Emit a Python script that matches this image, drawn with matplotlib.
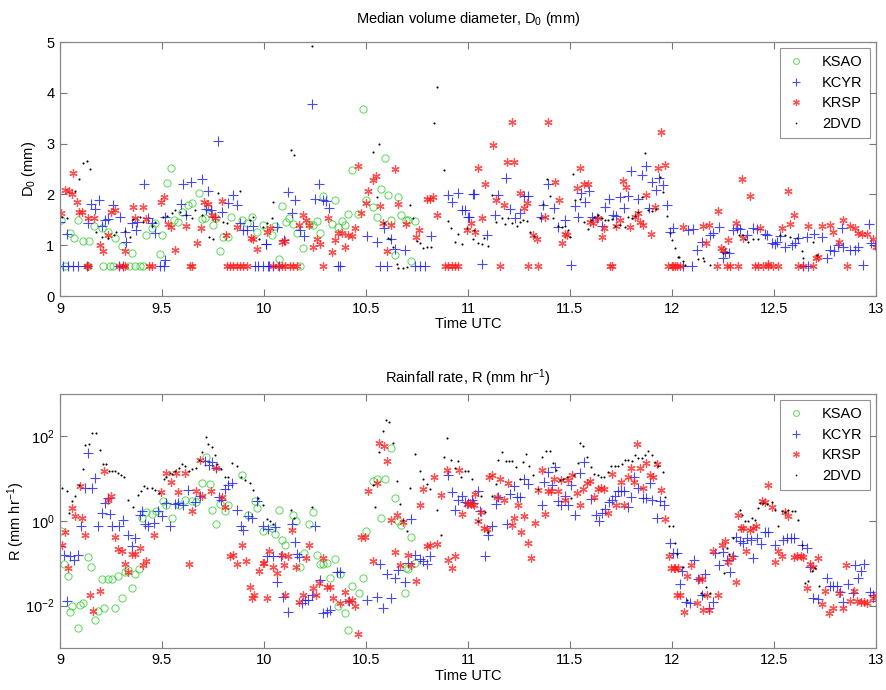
import matplotlib
matplotlib.use('Agg')
import matplotlib.pyplot as plt
import numpy as np
from matplotlib.ticker import FixedLocator, FixedFormatter, NullLocator

plt.rcParams['font.family'] = ['Liberation Sans', 'DejaVu Sans']
plt.rcParams['mathtext.default'] = 'regular'

# ---------------- data: median volume diameter D0 (mm), (time UTC, value) ----------------
ksao_d0 = [
    (9.004, 1.50), (9.049, 1.24), (9.070, 1.14), (9.086, 1.50), (9.114, 1.09), (9.143, 1.09),
    (9.168, 1.37), (9.204, 1.33), (9.236, 1.27), (9.269, 1.14), (9.302, 0.99), (9.354, 0.84),
    (9.424, 1.21), (9.449, 1.33), (9.465, 1.43), (9.501, 1.20), (9.491, 0.83), (9.527, 2.23),
    (9.544, 2.53), (9.560, 1.50), (9.580, 1.45), (9.599, 1.66), (9.629, 1.79), (9.645, 1.84),
    (9.681, 2.02), (9.694, 1.51), (9.710, 1.54), (9.727, 1.73), (9.751, 1.40), (9.767, 1.54),
    (9.784, 0.89), (9.800, 1.17), (9.825, 1.17), (9.838, 1.56), (9.890, 1.50), (9.915, 1.43),
    (9.939, 1.56), (9.964, 1.27), (9.996, 1.40), (10.037, 1.21), (10.054, 1.37), (10.086, 1.78),
    (10.107, 1.46), (10.124, 1.54), (10.143, 1.41), (10.160, 1.25), (10.189, 0.95), (10.222, 1.41),
    (10.241, 1.40), (10.261, 1.48), (10.274, 1.25), (10.290, 1.96), (10.348, 1.89), (10.331, 1.41),
    (10.364, 1.35), (10.380, 1.48), (10.397, 1.40), (10.410, 1.61), (10.429, 2.49), (10.462, 1.61),
    (10.483, 3.68), (10.500, 1.89), (10.536, 1.76), (10.552, 1.56), (10.572, 2.11), (10.591, 2.72),
    (10.607, 1.99), (10.625, 1.50), (10.642, 0.81), (10.658, 1.94), (10.674, 1.60), (10.694, 1.49),
    (10.707, 1.50), (10.740, 1.48), (10.723, 0.69),
    (9.024, 0.6), (9.138, 0.6), (9.212, 0.6), (9.245, 0.6), (9.261, 0.6), (9.338, 0.6),
    (9.367, 0.6), (9.392, 0.6), (9.408, 0.6), (10.073, 0.72), (10.176, 0.6),
]

kcyr_d0 = [
    (9.000, 1.46), (9.035, 1.22), (9.151, 1.81), (9.171, 1.71), (9.191, 1.90), (9.135, 1.43),
    (9.204, 1.37), (9.220, 1.50), (9.233, 1.51), (9.261, 1.79), (9.294, 1.56), (9.318, 1.27),
    (9.326, 1.07), (9.354, 1.43), (9.379, 1.46), (9.375, 1.30), (9.413, 2.20), (9.433, 1.53),
    (9.452, 1.43), (9.465, 1.24), (9.514, 1.56), (9.517, 0.71), (9.593, 1.82), (9.604, 2.20),
    (9.620, 1.60), (9.642, 2.25), (9.694, 2.30), (9.718, 1.71), (9.727, 2.07), (9.740, 1.69),
    (9.759, 1.56), (9.776, 3.05), (9.792, 1.66), (9.825, 1.84), (9.849, 1.98), (9.866, 1.80),
    (9.882, 1.44), (9.898, 1.30), (9.915, 1.30), (9.947, 1.37), (10.008, 1.02),
    (10.009, 1.02), (10.065, 1.35), (10.099, 1.10), (10.119, 2.05), (10.135, 1.63), (10.152, 1.89),
    (10.176, 1.30), (10.197, 1.18), (10.233, 3.79), (10.250, 1.91), (10.271, 2.20), (10.290, 1.89),
    (10.304, 1.87), (10.320, 1.73), (10.503, 1.18), (10.552, 1.07), (10.588, 1.33), (10.621, 1.12),
    (10.640, 0.93), (10.691, 0.91), (10.817, 1.18), (10.903, 1.98), (10.920, 1.86), (10.949, 2.02),
    (10.969, 1.69), (10.985, 1.69), (11.001, 1.56), (11.026, 2.00),
    (11.005, 1.56), (11.031, 2.00), (11.067, 0.64), (11.091, 1.20), (11.132, 1.60), (11.148, 1.99),
    (11.184, 2.33), (11.206, 1.71), (11.230, 1.54), (11.255, 1.63), (11.276, 1.96), (11.292, 1.96),
    (11.358, 1.56), (11.369, 1.80), (11.393, 2.20), (11.423, 1.73), (11.443, 1.35), (11.475, 1.50),
    (11.505, 0.62), (11.524, 1.78), (11.541, 1.56), (11.554, 2.02), (11.573, 1.86), (11.593, 2.07),
    (11.606, 1.56), (11.630, 1.54), (11.655, 1.37), (11.671, 1.76), (11.691, 1.92), (11.712, 1.60),
    (11.728, 1.57), (11.745, 1.94), (11.766, 1.74), (11.782, 1.96), (11.799, 2.46), (11.835, 1.92),
    (11.851, 2.38), (11.871, 2.56), (11.887, 1.74), (11.900, 2.25), (11.920, 2.09), (11.936, 2.32),
    (11.957, 2.19), (11.974, 1.80), (11.990, 1.27), (12.006, 1.33),
    (12.080, 1.30), (12.101, 1.32), (12.145, 1.07), (12.121, 0.91), (12.186, 1.20), (12.199, 1.25),
    (12.232, 1.35), (12.248, 0.75), (12.260, 0.87), (12.281, 0.84), (12.297, 1.30), (12.317, 1.33),
    (12.333, 1.31), (12.366, 1.20), (12.395, 1.33), (12.418, 1.32), (12.456, 1.23), (12.464, 1.21),
    (12.488, 1.04), (12.505, 1.02), (12.516, 1.07), (12.529, 1.18), (12.554, 0.97), (12.586, 1.00),
    (12.603, 1.04), (12.619, 1.14), (12.660, 1.17), (12.696, 1.23), (12.733, 1.17), (12.758, 0.74),
    (12.774, 0.91), (12.794, 0.89), (12.815, 1.00), (12.831, 1.33), (12.840, 0.97), (12.872, 0.91),
    (12.897, 0.91), (12.913, 0.97), (12.938, 0.62), (12.967, 1.41), (12.974, 1.04), (12.995, 1.00),
    (9.016, 0.6), (9.040, 0.6), (9.065, 0.6), (9.089, 0.6), (9.130, 0.6), (9.289, 0.6),
    (9.307, 0.6), (9.490, 0.6), (9.509, 0.6), (9.955, 0.6), (9.972, 0.6), (10.021, 0.6),
    (9.996, 0.6), (10.026, 0.6), (10.046, 0.6), (10.073, 0.6), (10.364, 0.6), (10.372, 0.6),
    (10.568, 0.6), (10.604, 0.6), (10.740, 0.6), (10.764, 0.6), (10.789, 0.6),
    (12.055, 0.6), (12.096, 0.6), (12.644, 0.6), (12.668, 0.6),
]

krsp_d0 = [
    (9.004, 1.63), (9.024, 2.09), (9.044, 2.07), (9.065, 2.43), (9.057, 2.00), (9.081, 1.86),
    (9.093, 1.66), (9.109, 1.66), (9.138, 1.53), (9.168, 1.54), (9.196, 1.00), (9.212, 0.89),
    (9.233, 1.21), (9.250, 1.66), (9.269, 1.69), (9.318, 0.89), (9.359, 1.75), (9.367, 1.54),
    (9.408, 1.76), (9.424, 1.51), (9.495, 1.86), (9.511, 1.94), (9.531, 1.41), (9.544, 1.35),
    (9.563, 0.91), (9.617, 1.38), (9.674, 1.04), (9.689, 1.33), (9.707, 1.86), (9.727, 1.82),
    (9.743, 1.60), (9.759, 1.54), (9.792, 1.87), (9.812, 1.20), (9.870, 1.35), (9.936, 1.14),
    (9.947, 1.12), (9.964, 0.92),
    (10.013, 1.27), (10.029, 1.33), (10.086, 1.06), (10.103, 1.08), (10.173, 1.40), (10.189, 1.60),
    (10.205, 1.50), (10.222, 1.40), (10.241, 0.97), (10.261, 1.12), (10.277, 1.02), (10.315, 1.54),
    (10.331, 0.87), (10.348, 1.10), (10.364, 1.25), (10.380, 1.25), (10.397, 0.97), (10.413, 1.20),
    (10.429, 1.18), (10.446, 1.33), (10.462, 2.56), (10.478, 1.64), (10.500, 1.83), (10.511, 2.07),
    (10.536, 2.28), (10.549, 2.36), (10.568, 1.78), (10.585, 1.43), (10.604, 0.89), (10.621, 1.39),
    (10.640, 2.51), (10.658, 1.81), (10.694, 1.41), (10.745, 1.17), (10.761, 1.30), (10.797, 1.91),
    (10.813, 1.92), (10.830, 1.94), (10.846, 1.60),
    (10.993, 1.30), (11.014, 1.43), (11.034, 1.27), (11.050, 2.53), (11.067, 1.54), (11.083, 2.20),
    (11.124, 2.97), (11.137, 1.89), (11.178, 1.79), (11.189, 2.63), (11.214, 3.42), (11.227, 2.63),
    (11.255, 2.02), (11.276, 1.74), (11.287, 1.84), (11.320, 1.20), (11.336, 1.12), (11.377, 1.56),
    (11.393, 3.42), (11.426, 2.24), (11.446, 1.89), (11.459, 1.04), (11.475, 1.23), (11.483, 1.21),
    (11.532, 2.12), (11.549, 2.53), (11.570, 2.20), (11.586, 2.20), (11.598, 1.46), (11.614, 1.44),
    (11.635, 1.53), (11.655, 1.17), (11.668, 1.33), (11.724, 1.38), (11.745, 1.50), (11.761, 2.27),
    (11.777, 2.15), (11.794, 1.35), (11.818, 1.56), (11.831, 1.63), (11.843, 1.46), (11.859, 1.40),
    (11.875, 1.99), (11.897, 1.23), (11.916, 1.76), (11.929, 2.53), (11.946, 3.22), (11.965, 2.58),
    (12.055, 1.35), (12.153, 1.37), (12.166, 1.04), (12.183, 1.39), (12.227, 1.67), (12.238, 0.95),
    (12.251, 0.91), (12.276, 1.10), (12.314, 1.43), (12.341, 2.30), (12.349, 1.15), (12.382, 1.97),
    (12.431, 1.33), (12.472, 0.64), (12.537, 1.33), (12.570, 2.07), (12.578, 1.41), (12.598, 1.60),
    (12.668, 1.37), (12.706, 0.74), (12.717, 0.77), (12.733, 1.38), (12.774, 1.40), (12.791, 1.27),
    (12.820, 1.06), (12.836, 1.50), (12.872, 1.38), (12.897, 1.33), (12.913, 1.25), (12.930, 1.23),
    (12.954, 1.23), (12.987, 1.12), (12.998, 0.97),
    (9.130, 0.6), (9.138, 0.6), (9.289, 0.6), (9.307, 0.6), (9.318, 0.6), (9.437, 0.6),
    (9.449, 0.6), (9.637, 0.6), (9.645, 0.6), (9.817, 0.6), (9.833, 0.6), (9.849, 0.6),
    (9.866, 0.6), (9.882, 0.6), (9.898, 0.6), (9.915, 0.6),
    (10.046, 0.6), (10.070, 0.6), (10.086, 0.6), (10.103, 0.6), (10.127, 0.6), (10.143, 0.6),
    (10.160, 0.6), (10.290, 0.6), (10.887, 0.6), (10.903, 0.6), (10.920, 0.6), (10.936, 0.6),
    (10.952, 0.6), (11.157, 0.6), (11.295, 0.6), (11.344, 0.6), (11.696, 0.6), (11.704, 0.6),
    (11.982, 0.6), (11.998, 0.6), (12.014, 0.6), (12.006, 0.6), (12.023, 0.6), (12.039, 0.6),
    (12.219, 0.6), (12.268, 0.6), (12.284, 0.6), (12.325, 0.6), (12.407, 0.6), (12.423, 0.6),
    (12.448, 0.6), (12.472, 0.6), (12.497, 0.6), (12.521, 0.6), (12.619, 0.6), (12.644, 0.6),
    (12.693, 0.6), (12.856, 0.6),
]

dvd_d0 = [
    (9.008, 1.56), (9.032, 1.54), (9.076, 2.07), (9.094, 2.30), (9.114, 2.61), (9.130, 2.66),
    (9.147, 2.51), (9.179, 1.27), (9.204, 1.17), (9.236, 1.14), (9.266, 1.20), (9.277, 1.27),
    (9.318, 1.28), (9.343, 1.17), (9.359, 1.51), (9.392, 1.55), (9.408, 1.46), (9.449, 1.38),
    (9.465, 1.45), (9.506, 1.56), (9.527, 1.58), (9.547, 1.63), (9.563, 1.69), (9.588, 1.66),
    (9.620, 1.60), (9.645, 1.53), (9.661, 1.69), (9.694, 1.60), (9.732, 1.17), (9.751, 1.12),
    (9.776, 2.02), (9.800, 1.46), (9.817, 1.44), (9.882, 2.07), (9.931, 1.50), (9.947, 1.56),
    (9.975, 1.12), (9.996, 1.36),
    (10.016, 1.43), (10.037, 1.53), (10.045, 1.86), (10.132, 2.87), (10.148, 2.78), (10.233, 4.93),
    (10.532, 2.84), (10.552, 1.94), (10.565, 3.00), (10.588, 1.43), (10.609, 1.15), (10.617, 1.12),
    (10.634, 0.97), (10.650, 0.64), (10.658, 0.56), (10.679, 0.56), (10.699, 0.58), (10.715, 1.80),
    (10.732, 1.54), (10.748, 1.08), (10.764, 1.04), (10.781, 0.95), (10.797, 0.97), (10.817, 0.97),
    (10.833, 3.40), (10.849, 4.11), (10.882, 2.48), (10.903, 1.48), (10.915, 1.33), (10.936, 1.06),
    (10.952, 1.23), (10.969, 1.02), (10.993, 1.33), (11.026, 1.12),
    (11.031, 1.30), (11.047, 1.04), (11.067, 1.02), (11.080, 1.14), (11.096, 0.99), (11.116, 1.99),
    (11.135, 1.46), (11.165, 1.53), (11.181, 1.41), (11.197, 1.54), (11.214, 1.43), (11.238, 1.37),
    (11.255, 1.45), (11.271, 1.50), (11.287, 1.48), (11.304, 1.27), (11.325, 1.19), (11.353, 1.54),
    (11.369, 1.82), (11.385, 2.30), (11.402, 1.96), (11.418, 1.53), (11.443, 1.37), (11.459, 1.35),
    (11.475, 1.37), (11.492, 1.30), (11.500, 1.17), (11.516, 2.40), (11.524, 1.89), (11.549, 1.92),
    (11.570, 1.45), (11.586, 1.32), (11.603, 1.50), (11.619, 1.56), (11.635, 1.60), (11.655, 1.54),
    (11.671, 1.50), (11.688, 1.50), (11.704, 1.51), (11.720, 1.37), (11.745, 1.40), (11.769, 1.35),
    (11.786, 1.56), (11.802, 1.54), (11.818, 1.58), (11.835, 1.66), (11.851, 1.94), (11.867, 2.81),
    (11.884, 1.69), (11.900, 1.67), (11.920, 1.71), (11.941, 2.35), (11.957, 2.04), (11.974, 1.58),
    (11.990, 1.25), (12.001, 1.10), (12.014, 0.94), (12.031, 0.77),
    (12.036, 0.77), (12.052, 0.68), (12.064, 0.61), (12.129, 0.73), (12.150, 0.74), (12.157, 0.69),
    (12.186, 0.61), (12.251, 0.84), (12.268, 0.87), (12.330, 1.20), (12.341, 1.21), (12.358, 1.12),
    (12.374, 1.07), (12.399, 1.12), (12.423, 1.12), (12.529, 1.20), (12.554, 1.21), (12.578, 1.17),
    (12.611, 1.14), (12.635, 0.89), (12.644, 0.75), (12.689, 1.06), (12.709, 0.81),
]

# ---------------- data: rainfall rate, stored as log10(R / mm hr^-1) ----------------
ksao_logR = [
    (9.004, -0.23), (9.021, -1.02), (9.037, -1.31), (9.049, -2.14), (9.060, -2.02), (9.086, -2.52),
    (9.098, -1.98), (9.114, -1.95), (9.135, -0.86), (9.151, -1.08), (9.171, -2.34), (9.187, -2.13),
    (9.204, -1.38), (9.217, -2.06), (9.233, -1.37), (9.253, -1.37), (9.269, -2.05), (9.285, -1.31),
    (9.302, -1.81), (9.318, -1.20), (9.334, -1.17), (9.354, -1.59), (9.367, -1.26), (9.387, -1.13),
    (9.403, 0.08), (9.424, 0.21), (9.449, 0.16), (9.473, 0.24), (9.506, 0.46), (9.522, 0.38),
    (9.547, 0.07), (9.583, 0.37), (9.612, 0.50), (9.645, 0.46), (9.669, 0.45), (9.694, 0.89),
    (9.718, 1.50), (9.735, 0.87), (9.746, 0.26), (9.767, -0.07), (9.784, 0.40), (9.808, 0.23),
    (9.825, 0.37), (9.893, 1.08), (9.923, 0.13), (9.955, 0.46), (9.968, 0.30), (9.996, -0.23),
    (10.037, -0.17), (10.054, -0.31), (10.075, 0.26), (10.086, -0.45), (10.103, -0.58),
    (10.140, 0.13), (10.156, 0.00), (10.176, -1.08), (10.196, -0.76), (10.222, -0.08), (10.241, 0.21),
    (10.261, -0.80), (10.274, -1.02), (10.290, -1.02), (10.307, -1.00), (10.326, -1.34),
    (10.348, -0.90), (10.375, -1.26), (10.364, -2.00), (10.397, -2.18), (10.410, -2.58),
    (10.429, -1.53), (10.467, -1.71), (10.483, -1.34), (10.500, -0.23), (10.536, 0.95), (10.552, 1.00),
    (10.572, 0.08), (10.591, 1.00), (10.625, 1.72), (10.642, 0.54), (10.658, 0.00), (10.674, -0.09),
    (10.694, -1.12), (10.707, -1.13), (10.723, -0.37), (10.740, -1.00), (10.691, -1.71),
]

kcyr_logR = [
    (9.000, -0.60), (9.021, -0.80), (9.032, -1.90), (9.049, -0.82), (9.070, -0.92), (9.086, -0.80),
    (9.102, -0.13), (9.122, 0.78), (9.135, 1.61), (9.155, 0.78), (9.174, 1.01), (9.187, -0.13),
    (9.204, 0.19), (9.220, 0.42), (9.233, 0.54), (9.245, 0.16), (9.256, -0.13), (9.289, -0.13),
    (9.310, 0.03), (9.331, -0.34), (9.351, -0.60), (9.367, -0.41), (9.392, 0.15), (9.403, 0.24),
    (9.416, -0.08), (9.433, -0.13), (9.462, -0.05), (9.482, 0.24), (9.498, 0.11), (9.522, 0.42),
    (9.539, -0.13), (9.563, 0.40), (9.580, 0.42), (9.604, 0.38), (9.629, 0.74), (9.661, 0.45),
    (9.686, 0.58), (9.710, 1.41), (9.730, 1.33), (9.746, 1.39), (9.767, 1.25), (9.779, 0.56),
    (9.789, 0.50), (9.808, 0.76), (9.825, 0.84), (9.841, 0.89), (9.870, 0.26), (9.887, -0.11),
    (9.898, -0.21), (9.923, 0.11), (9.939, 0.07), (9.964, 0.46), (9.996, -0.13), (10.013, -0.84),
    (10.021, -0.19), (10.045, -0.82), (10.054, -0.15), (10.062, -1.45), (10.081, -0.82),
    (10.094, -1.79), (10.119, -2.14), (10.135, -0.08), (10.152, -0.49), (10.163, -0.79),
    (10.173, -0.86), (10.184, -1.95), (10.201, -1.87), (10.217, -1.87), (10.233, -1.75),
    (10.250, -0.11), (10.274, -1.39), (10.290, -2.18), (10.307, -2.14), (10.323, -2.10),
    (10.356, -1.20), (10.372, -1.20), (10.418, -1.89), (10.503, -1.87), (10.552, -1.79),
    (10.568, -1.02), (10.585, -2.05), (10.601, -1.26), (10.625, -1.83), (10.642, -1.35),
    (10.658, -1.16), (10.691, -1.45), (10.707, -1.00), (10.723, 0.05), (10.740, -0.80),
    (10.764, -0.90), (10.781, -0.94), (10.797, -1.02), (10.813, -0.82), (10.903, 1.08),
    (10.920, 0.68), (10.936, 0.26), (10.952, 0.50), (10.969, 0.60), (10.985, 0.45), (11.001, 0.42),
    (11.018, 0.50),
    (11.026, 0.42), (11.047, 0.71), (11.059, 0.24), (11.083, -0.84), (11.099, -0.34), (11.116, -0.13),
    (11.135, 0.40), (11.148, 0.56), (11.189, -0.08), (11.206, 0.63), (11.227, 0.82), (11.238, 0.56),
    (11.255, 0.56), (11.276, 1.00), (11.292, 0.87), (11.361, 0.38), (11.374, 0.92), (11.393, 1.16),
    (11.413, 0.86), (11.426, 1.27), (11.443, 0.46), (11.456, 0.37), (11.475, 0.60), (11.488, 0.38),
    (11.505, 0.86), (11.524, 0.15), (11.549, 1.13), (11.570, 1.39), (11.603, 0.52), (11.626, 0.13),
    (11.642, 0.00), (11.655, 0.18), (11.671, 0.29), (11.691, 0.45), (11.704, 0.50), (11.720, 0.60),
    (11.733, 0.70), (11.750, 0.70), (11.766, 0.70), (11.782, 0.34), (11.799, 0.56), (11.815, 1.05),
    (11.831, 0.79), (11.859, 0.54), (11.875, 0.54), (11.892, 0.89), (11.903, 0.50), (11.925, 0.08),
    (11.941, 0.46), (11.962, 0.38), (11.990, -0.53), (12.006, -0.76), (12.023, -0.76),
    (12.039, -1.50), (12.047, -1.18), (12.068, -1.92), (12.088, -1.95), (12.108, -0.92),
    (12.129, -1.37), (12.145, -1.75), (12.162, -1.26), (12.183, -2.06), (12.199, -1.92),
    (12.211, -0.76), (12.232, -1.04), (12.251, -0.74), (12.268, -0.92), (12.284, -1.20),
    (12.300, -0.82), (12.314, -0.37), (12.333, -0.47), (12.349, -0.53), (12.366, -0.41),
    (12.385, -0.45), (12.399, -0.88), (12.418, -0.41), (12.434, -0.55), (12.456, -0.25),
    (12.472, -0.25), (12.505, -0.56), (12.546, -0.45), (12.562, -0.41), (12.582, -0.41),
    (12.598, -0.41), (12.635, -0.58), (12.660, -0.64), (12.676, -1.08), (12.693, -1.83),
    (12.717, -1.84), (12.758, -1.35), (12.774, -1.53), (12.791, -1.53), (12.807, -1.53),
    (12.823, -1.67), (12.840, -1.91), (12.864, -1.50), (12.885, -1.71), (12.897, -1.04),
    (12.913, -1.35), (12.925, -1.18), (12.941, -1.02), (12.970, -1.67), (12.987, -1.76),
    (12.999, -1.89),
]

krsp_logR = [
    (9.008, -0.58), (9.024, -0.25), (9.040, -1.10), (9.057, 0.30), (9.076, 0.11), (9.098, 0.82),
    (9.109, 0.08), (9.125, -0.33), (9.147, -1.76), (9.163, -2.13), (9.196, -1.65), (9.217, 1.17),
    (9.233, 0.50), (9.250, 0.58), (9.269, -0.39), (9.282, -0.66), (9.302, -0.72), (9.318, -1.02),
    (9.334, -1.20), (9.354, -0.79), (9.370, -0.79), (9.392, -0.64), (9.408, -1.04), (9.424, -0.94),
    (9.462, -0.33), (9.495, 0.68), (9.522, 1.13), (9.544, 0.92), (9.567, 1.13), (9.580, 0.68),
    (9.612, 1.13), (9.632, -1.02), (9.645, 0.24), (9.669, 0.71), (9.686, 1.45), (9.694, 0.60),
    (9.740, 0.70), (9.763, 1.25), (9.792, 0.56), (9.808, 0.34), (9.833, -0.82), (9.849, -0.80),
    (9.866, -1.02), (9.890, -0.58), (9.910, -0.94), (9.931, -1.57), (9.939, -1.81), (9.952, -1.75),
    (9.977, -1.18), (9.996, -1.00), (10.013, -1.81),
    (10.000, -1.00), (10.026, -0.72), (10.045, -1.08), (10.065, -1.24), (10.086, -0.80),
    (10.098, -1.04), (10.103, -1.75), (10.119, -0.82), (10.135, -0.21), (10.156, -1.08),
    (10.173, -1.92), (10.189, -1.76), (10.205, -0.88), (10.222, -0.56), (10.238, -1.59),
    (10.254, -1.75), (10.271, -1.47), (10.290, -0.88), (10.307, -1.57), (10.323, -1.55),
    (10.339, -1.83), (10.372, -1.95), (10.397, -1.69), (10.413, -1.89), (10.429, -1.87),
    (10.446, -2.02), (10.462, -2.66), (10.478, -0.38), (10.495, -0.38), (10.511, 0.70),
    (10.536, -0.94), (10.552, 0.89), (10.565, 1.84), (10.588, 1.76), (10.604, 1.42), (10.621, 0.03),
    (10.640, -0.74), (10.650, 0.15), (10.666, -1.04), (10.683, -0.03), (10.707, -0.80),
    (10.723, -1.04), (10.745, -1.42), (10.764, 0.37), (10.781, 0.76), (10.797, -0.60),
    (10.813, -0.58), (10.833, 1.03), (10.849, -0.55), (10.870, 0.62), (10.895, 1.21),
    (10.903, -0.92), (10.920, -1.12), (10.936, -0.82), (10.957, 1.21), (10.973, 0.16),
    (10.993, 0.40), (11.013, 0.40), (11.029, 0.38),
    (11.010, 0.42), (11.034, 0.63), (11.050, 0.00), (11.063, 0.22), (11.080, -0.17), (11.091, -0.19),
    (11.103, 1.03), (11.119, 1.09), (11.140, 0.56), (11.157, 1.00), (11.178, 0.50), (11.194, 0.90),
    (11.214, -0.09), (11.227, 0.08), (11.243, 0.38), (11.259, -0.25), (11.276, 0.11), (11.292, -0.52),
    (11.309, -0.88), (11.328, -0.05), (11.341, 0.74), (11.364, 1.21), (11.377, 0.16), (11.393, 0.71),
    (11.407, 0.70), (11.423, 1.00), (11.439, 0.70), (11.456, 0.97), (11.478, 0.50), (11.492, 0.97),
    (11.508, 1.08), (11.532, 0.66), (11.549, 0.38), (11.565, 0.76), (11.581, 0.90), (11.598, 0.95),
    (11.619, 0.56), (11.635, 0.76), (11.652, 0.79), (11.668, 0.76), (11.688, 0.18), (11.704, 1.11),
    (11.724, 0.38), (11.750, 0.93), (11.766, 0.37), (11.782, 1.05), (11.799, 1.25), (11.815, 0.92),
    (11.827, 1.82), (11.843, 1.25), (11.859, 0.78), (11.875, 1.37), (11.892, 1.09), (11.908, 1.03),
    (11.925, 1.35), (11.946, 0.74), (11.965, 0.05), (11.985, -0.82), (11.995, -1.12),
    (12.011, -1.12), (12.027, -1.76),
    (12.015, -1.12), (12.031, -1.12), (12.039, -1.75), (12.059, -2.16), (12.075, -1.29),
    (12.091, -1.05), (12.121, -1.95), (12.134, -1.37), (12.145, -1.37), (12.153, -2.10),
    (12.170, -1.76), (12.183, -2.10), (12.202, -0.72), (12.227, -1.76), (12.243, -0.58),
    (12.260, -0.47), (12.276, -0.96), (12.292, -0.86), (12.314, -1.45), (12.325, 0.13),
    (12.336, -0.17), (12.349, -0.17), (12.363, -0.72), (12.382, -0.21), (12.399, -0.17),
    (12.412, -0.11), (12.439, 0.46), (12.456, 0.45), (12.472, 0.86), (12.488, 0.34), (12.505, -0.96),
    (12.521, -0.72), (12.537, -0.82), (12.554, 0.22), (12.570, 0.11), (12.598, -0.86),
    (12.611, -0.84), (12.631, -0.82), (12.644, -0.86), (12.660, -1.59), (12.676, -1.02),
    (12.693, -1.08), (12.717, -0.88), (12.733, -1.97), (12.750, -1.65), (12.771, -2.18),
    (12.791, -2.05), (12.820, -1.71), (12.840, -2.05), (12.853, -1.05), (12.872, -1.89),
    (12.892, -1.65), (12.908, -1.89), (12.925, -1.92), (12.941, -1.92), (12.954, -1.95),
    (12.983, -1.83), (12.999, -1.76),
]

dvd_logR = [
    (9.011, 0.78), (9.032, 0.70), (9.044, 0.18), (9.060, 0.46), (9.073, 0.58), (9.093, 0.84),
    (9.111, 1.23), (9.125, 1.79), (9.143, 1.82), (9.158, 2.08), (9.179, 2.09), (9.196, 1.68),
    (9.212, 1.35), (9.228, 1.35), (9.240, 1.19), (9.256, 1.19), (9.269, 1.17), (9.285, 1.13),
    (9.299, 1.09), (9.315, 1.03), (9.331, 0.50), (9.359, 0.34), (9.380, 0.62), (9.397, 0.71),
    (9.413, 0.82), (9.429, 0.78), (9.449, 0.78), (9.465, 0.74), (9.485, 0.66), (9.511, 1.00),
    (9.522, 1.03), (9.539, 1.13), (9.550, 1.11), (9.563, 1.19), (9.583, 1.25), (9.596, 1.35),
    (9.612, 1.31), (9.632, 1.17), (9.648, 1.23), (9.665, 1.25), (9.681, 1.45), (9.697, 1.64),
    (9.714, 1.98), (9.727, 1.82), (9.743, 1.74), (9.759, 1.57), (9.772, 1.35), (9.789, 1.23),
    (9.808, 1.05), (9.825, 1.05), (9.844, 1.37), (9.866, 1.31), (9.887, 1.05), (9.906, 0.97),
    (9.931, 0.89), (9.947, 0.74), (9.972, 0.54), (9.996, 0.38), (10.017, 0.05),
    (10.029, -0.01), (10.045, -0.08), (10.132, 0.26), (10.148, 0.08), (10.233, 0.32),
    (10.532, 0.86), (10.544, 0.32), (10.565, 1.63), (10.581, 2.12), (10.598, 2.39), (10.614, 2.34),
    (10.634, 1.84), (10.650, 0.95), (10.666, 0.40), (10.683, 0.03), (10.699, -0.23), (10.715, 0.79),
    (10.740, 1.58), (10.764, 1.19), (10.781, 1.00), (10.797, 0.87), (10.813, 0.76), (10.846, 0.26),
    (10.866, -0.33), (10.882, 1.50), (10.898, 1.96), (10.915, 1.45), (10.936, 1.25), (10.952, 1.41),
    (10.964, 1.03), (10.985, 1.17), (11.001, 1.19), (11.018, 1.00),
    (11.047, 0.00), (11.063, 0.58), (11.083, 0.22), (11.099, -0.25), (11.119, 0.58), (11.135, 0.87),
    (11.148, 1.45), (11.165, 1.64), (11.184, 1.42), (11.201, 1.42), (11.217, 1.42), (11.233, 1.27),
    (11.255, 1.00), (11.271, 1.39), (11.284, 1.58), (11.299, 1.31), (11.320, 1.08), (11.341, 0.76),
    (11.364, 1.50), (11.380, 1.66), (11.402, 1.66), (11.418, 1.37), (11.429, 1.21), (11.451, 0.97),
    (11.467, 1.00), (11.483, 1.03), (11.505, 0.54), (11.521, 1.09), (11.537, 1.37), (11.549, 1.84),
    (11.565, 1.76), (11.581, 1.50), (11.603, 1.27), (11.619, 1.11), (11.635, 1.08), (11.652, 1.05),
    (11.668, 1.05), (11.684, 1.16), (11.701, 1.29), (11.720, 1.31), (11.737, 1.29), (11.753, 1.35),
    (11.769, 1.45), (11.786, 1.45), (11.802, 1.41), (11.818, 1.55), (11.835, 1.49), (11.851, 1.49),
    (11.867, 1.55), (11.884, 1.66), (11.900, 1.55), (11.916, 1.39), (11.933, 1.31), (11.957, 1.16),
    (11.965, 0.56), (11.985, -0.13), (12.006, -0.13), (12.027, -0.79),
    (12.015, -0.52), (12.052, -1.08), (12.072, -1.87), (12.140, -1.71), (12.153, -1.75),
    (12.166, -1.55), (12.186, -1.71), (12.255, -1.23), (12.268, -0.64), (12.281, -0.79),
    (12.300, -0.41), (12.333, 0.26), (12.341, 0.13), (12.358, -0.01), (12.374, 0.00), (12.390, 0.07),
    (12.407, 0.03), (12.423, 0.30), (12.431, 0.42), (12.448, 0.42), (12.464, 0.40), (12.488, 0.45),
    (12.505, 0.26), (12.521, -0.11), (12.537, 0.24), (12.554, 0.22), (12.570, 0.26), (12.586, 0.24),
    (12.603, 0.24), (12.619, 0.03), (12.635, -0.56), (12.652, -1.47), (12.668, -1.42),
    (12.684, -1.18), (12.701, -1.12), (12.722, -1.53),
]

series_labels = ['KSAO', 'KCYR', 'KRSP', '2DVD']
x_ticks = [9, 9.5, 10, 10.5, 11, 11.5, 12, 12.5, 13]
x_tick_labels = ['9', '9.5', '10', '10.5', '11', '11.5', '12', '12.5', '13']
d0_ticks = [0, 1, 2, 3, 4, 5]
r_ticks = [1e-2, 1e0, 1e2]
r_tick_labels = ['10$^{-2}$', '10$^{0}$', '10$^{2}$']

# ---------------- styling ----------------
styles = [
    dict(marker='o', ms=5.2, mfc='none', mec='#22cc22', mew=0.7, alpha=0.75),
    dict(marker='+', ms=7, mec='#1a1aff', mew=0.8, alpha=0.8),
    dict(marker=(6, 2, 0), ms=6, mec='#ff1a1a', mew=0.9, alpha=0.75),
    dict(marker='.', ms=3, mec='black', mfc='black', mew=0, alpha=1.0),
]

fig = plt.figure(figsize=(8.86, 6.9), dpi=100)
ax1 = fig.add_axes([0.0677, 0.571, 0.921, 0.368])
ax2 = fig.add_axes([0.0677, 0.061, 0.921, 0.368])

def draw(ax, datasets, transform_log=False):
    handles = []
    for data, st, lab in zip(datasets, styles, series_labels):
        t = np.array([p[0] for p in data])
        v = np.array([p[1] for p in data])
        if transform_log:
            v = 10.0 ** v
        h, = ax.plot(t, v, ls='none', label=lab, **st)
        handles.append(h)
    return handles

draw(ax1, [ksao_d0, kcyr_d0, krsp_d0, dvd_d0])
draw(ax2, [ksao_logR, kcyr_logR, krsp_logR, dvd_logR], transform_log=True)

for ax in (ax1, ax2):
    ax.set_xlim(9, 13)
    ax.set_xticks(x_ticks)
    ax.set_xticklabels(x_tick_labels)
    ax.tick_params(direction='in', top=True, right=True, length=5, width=0.8,
                   labelsize=10.5, color='#777777', pad=4)
    for s in ax.spines.values():
        s.set_color('#888888')
        s.set_linewidth(0.9)
    ax.set_xlabel('Time UTC', fontsize=10.5, labelpad=1)
    leg = ax.legend(loc='upper right', fontsize=10.5, frameon=True, fancybox=False,
                    edgecolor='#777777', handlelength=1.2, handletextpad=1.2,
                    borderpad=0.5, labelspacing=0.45, markerscale=0.8,
                    borderaxespad=0.4)
    leg.get_frame().set_linewidth(0.8)

ax1.set_ylim(0, 5)
ax1.set_yticks(d0_ticks)
ax1.set_yticklabels([str(v) for v in d0_ticks])
ax1.set_ylabel('D$_0$ (mm)', fontsize=10.5)
ax1.yaxis.set_label_coords(-0.027, 0.5)
ax1.set_title('Median volume diameter, D$_0$ (mm)', fontsize=10.5, pad=14)

ax2.set_yscale('log')
ax2.set_ylim(1e-3, 1e3)
ax2.yaxis.set_major_locator(FixedLocator(r_ticks))
ax2.yaxis.set_major_formatter(FixedFormatter(r_tick_labels))
ax2.yaxis.set_minor_locator(NullLocator())
ax2.set_ylabel('R (mm hr$^{-1}$)', fontsize=10.5)
ax2.yaxis.set_label_coords(-0.040, 0.5)
ax2.set_title('Rainfall rate, R (mm hr$^{-1}$)', fontsize=10.5, pad=8)

fig.savefig('out.png', dpi=100, facecolor='white')
